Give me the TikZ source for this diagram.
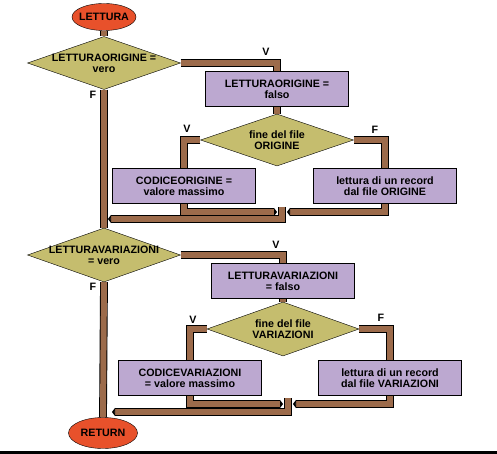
\documentclass[tikz,border=0pt]{standalone}
\usepackage{fontspec}
\setmainfont{Liberation Sans}
\usetikzlibrary{shapes.geometric, arrows.meta, backgrounds}
\definecolor{pipebrown}{HTML}{9C6B4B}
\definecolor{ovalred}{HTML}{E8512B}
\definecolor{khaki}{HTML}{C5BD6E}
\definecolor{lilac}{HTML}{BCA8D0}

\begin{document}
\begin{tikzpicture}[x=1pt, y=-1pt,
	every node/.style={font=\bfseries\fontsize{10.7}{11}\selectfont, align=center},
	oval/.style={draw, ellipse, fill=ovalred, inner sep=-4pt},
	dmd/.style={draw, diamond, aspect=2.9, fill=khaki, inner xsep=-8pt, inner ysep=-4pt,
		minimum width=153pt, minimum height=53pt},
	box/.style={draw, rectangle, fill=lilac, inner sep=0pt,
		minimum width=143pt, minimum height=35pt},
	pipe/.style={draw=black, double=pipebrown, double distance=6pt, line width=0.9pt},
	tip/.style={-{Triangle[length=3pt, width=8pt]}},
	lbl/.style={font=\bfseries\fontsize{10.7}{11}\selectfont}]
	\useasboundingbox (0,0) rectangle (497,454);
	% prima parte
	\node[oval, minimum width=64pt, minimum height=27pt] (start) at (104,17) {LETTURA};
	\node[dmd] (d1) at (104,63) {LETTURAORIGINE =\\vero};
	\node[box] (b1) at (277,89) {LETTURAORIGINE =\\falso};
	\node[dmd, minimum height=52pt] (d2) at (277,140) {fine del file\\ORIGINE};
	\node[box] (c1) at (184,186) {CODICEORIGINE =\\valore massimo};
	\node[box] (r1) at (385,186) {lettura di un record\\dal file ORIGINE};
	\coordinate (ml1) at (277,212);
	\coordinate (mr1) at (287,212);
	\coordinate (s1) at (282,207);
	\coordinate (j1) at (108,219);
	% seconda parte
	\node[dmd, minimum height=54pt] (d3) at (104,255) {LETTURAVARIAZIONI\\= vero};
	\node[box] (b2) at (283,281) {LETTURAVARIAZIONI\\= falso};
	\node[dmd, minimum width=152pt, minimum height=54pt] (d4) at (283,329) {fine del file\\VARIAZIONI};
	\node[box] (c2) at (190,378) {CODICEVARIAZIONI\\= valore massimo};
	\node[box] (r2) at (390,378) {lettura di un record\\dal file VARIAZIONI};
	\coordinate (ml2) at (283,404);
	\coordinate (mr2) at (293,404);
	\coordinate (s2) at (288,398);
	\coordinate (j2) at (112,412);
	\node[oval, minimum width=69pt, minimum height=31pt] (ret) at (103,433) {RETURN};
	% etichette
	\node[lbl] (f1) at (93,95) {F};
	\node[lbl] (v1) at (266,52) {V};
	\node[lbl] (v2) at (187,129) {V};
	\node[lbl] (f2) at (375,130) {F};
	\node[lbl] (f3) at (93,287) {F};
	\node[lbl] (v3) at (276,245) {V};
	\node[lbl] (v4) at (193,320) {V};
	\node[lbl] (f4) at (381,318) {F};
	\begin{scope}[on background layer]
		\draw[pipe] (start.south) -- (d1.north);
		\draw[pipe] (d1.south) -- (d3.north);
		\draw[pipe] (d3.south) -- (ret.north);
		\draw[pipe] (d1.east) -| (b1.north);
		\draw[pipe] (b1.south) -- (d2.north);
		\draw[pipe, tip] (d2.west) -| (c1 |- ml1) -- (ml1);
		\draw[pipe, tip] (d2.east) -| (r1 |- mr1) -- (mr1);
		\draw[pipe, tip] (s1) |- (j1);
		\draw[pipe] (d3.east) -| (b2.north);
		\draw[pipe] (b2.south) -- (d4.north);
		\draw[pipe, tip] (d4.west) -| (c2 |- ml2) -- (ml2);
		\draw[pipe, tip] (d4.east) -| (r2 |- mr2) -- (mr2);
		\draw[pipe, tip] (s2) |- (j2);
	\end{scope}
	\fill (0,451) rectangle (497,454);
\end{tikzpicture}
\end{document}
